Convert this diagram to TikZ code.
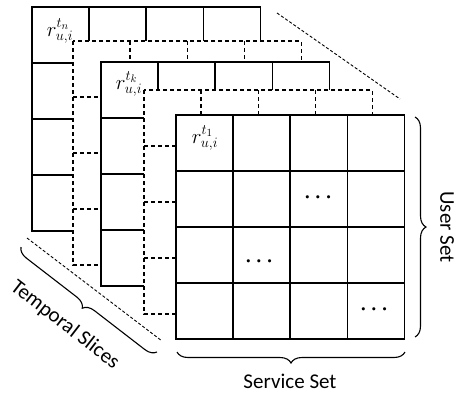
\documentclass[tikz,border=0pt]{standalone}
\usepackage{fontspec}
\setmainfont{Carlito}
\usetikzlibrary{decorations.pathreplacing}
\DeclareMathSizes{22}{22}{14.5}{11}
\tikzset{
 solidgrid/.style={line width=1.6pt},
 dashgrid/.style={line width=1.4pt, dash pattern=on 4pt off 3pt},
 guide/.style={line width=0.9pt, dash pattern=on 3pt off 2pt},
 bracestyle/.style={decorate, decoration={brace, amplitude=11pt}, line width=1.1pt},
 lbl/.style={font=\fontsize{21}{25}\selectfont, inner sep=0pt},
 cellmath/.style={font=\fontsize{22}{26}\selectfont, inner sep=0pt},
 dotsstyle/.style={font=\fontsize{22}{26}\selectfont\boldmath, inner sep=0pt},
}
\newcommand\mylayer[3]{%
 \begin{scope}[shift={(#1,#2)}]
  \fill[white] (0,0) rectangle (228.5,224);
  \foreach \i in {1,2,3} {\draw[#3] (57.125*\i,0) -- (57.125*\i,224);}
  \foreach \j in {1,2,3} {\draw[#3] (0,56*\j) -- (228.5,56*\j);}
  \draw[#3] (0,0) rectangle (228.5,224);
 \end{scope}}
\begin{document}
\begin{tikzpicture}[x=1pt,y=-1pt]
\useasboundingbox (0,0) rectangle (457,397);
\mylayer{32}{7}{solidgrid}
\node[cellmath] (ln) at (60,31) {$r^{t_n}_{u,i}$};
\mylayer{73}{41}{dashgrid}
\mylayer{101}{62}{solidgrid}
\node[cellmath] (lk) at (129,84) {$r^{t_k}_{u,i}$};
\mylayer{144}{90}{dashgrid}
\mylayer{176}{115}{solidgrid}
\node[cellmath] (l1) at (205,138) {$r^{t_1}_{u,i}$};
\node[dotsstyle] (d1) at (318,198) {$\cdots$};
\node[dotsstyle] (d2) at (259,262) {$\cdots$};
\node[dotsstyle] (d3) at (374,310) {$\cdots$};
% guides
\coordinate (g1a) at (277,13); \coordinate (g1b) at (400,99);
\coordinate (g2a) at (27,238); \coordinate (g2b) at (162,341);
\draw[guide] (g1a) -- (g1b);
\draw[guide] (g2a) -- (g2b);
% braces
\coordinate (ub1) at (415,117); \coordinate (ub2) at (415,337);
\draw[bracestyle] (ub1) -- (ub2);
\coordinate (sb1) at (405,352); \coordinate (sb2) at (177,352);
\draw[bracestyle] (sb1) -- (sb2);
\coordinate (tb1) at (157,352); \coordinate (tb2) at (21,247);
\draw[bracestyle] (tb1) -- (tb2);
\node[lbl, rotate=-90] (user) at (447,227) {User Set};
\node[lbl] (serv) at (290,381) {Service Set};
\node[lbl, rotate=-37.7] (temp) at (65,325) {Temporal Slices};
\end{tikzpicture}
\end{document}
